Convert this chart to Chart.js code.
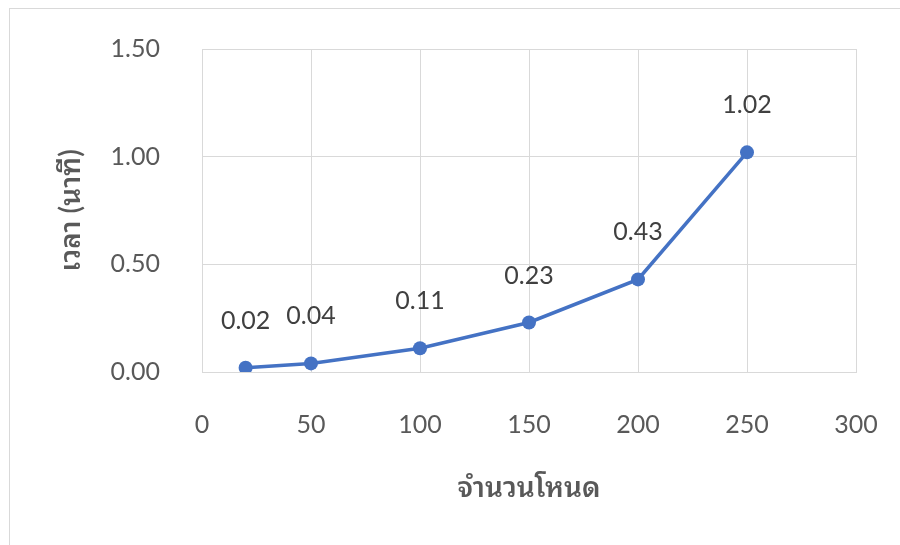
<!DOCTYPE html>
<html><head><meta charset="utf-8">
<script src="https://cdn.jsdelivr.net/npm/chart.js@4"></script>
<style>html,body{margin:0;padding:0;background:#fff}canvas{display:block}</style>
</head><body>
<canvas id="c" width="900" height="545"></canvas>
<script>
const nodes = [20, 50, 100, 150, 200, 250];
const minutes = [0.02, 0.04, 0.11, 0.23, 0.43, 1.02];
const xTickLabels = ['0','50','100','150','200','250','300'];
const yTickLabels = ['0.00','0.50','1.00','1.50'];
const xTitle = 'จำนวนโหนด';
const yTitle = 'เวลา (นาที)';

const FONT = 'Lato, "Noto Sans", "Noto Sans Thai", sans-serif';
const TFONT = 'Lato, "Noto Sans Thai Looped", "Noto Sans Thai", Tahoma, sans-serif';

const frame = {
  id: 'frame',
  beforeDraw(chart) {
    const ctx = chart.ctx;
    ctx.save();
    ctx.fillStyle = '#fff';
    ctx.fillRect(0, 0, chart.width, chart.height);
    ctx.strokeStyle = '#d9d9d9';
    ctx.lineWidth = 1;
    ctx.strokeRect(9.5, 8.5, 1000, 1000);
    ctx.restore();
  }
};
const labels = {
  id: 'labels',
  afterDatasetsDraw(chart) {
    const ctx = chart.ctx;
    const meta = chart.getDatasetMeta(0);
    ctx.save();
    ctx.font = '25px ' + FONT;
    ctx.fillStyle = '#404040';
    ctx.textAlign = 'center';
    ctx.textBaseline = 'middle';
    meta.data.forEach((pt, i) => {
      ctx.fillText(minutes[i].toFixed(2), pt.x, pt.y - 47);
    });
    ctx.restore();
  }
};

new Chart(document.getElementById('c'), {
  type: 'scatter',
  data: {
    datasets: [{
      data: nodes.map((n, i) => ({x: n, y: minutes[i]})),
      showLine: true,
      borderColor: '#4472C4',
      backgroundColor: '#4472C4',
      borderWidth: 3.5,
      pointRadius: 7,
      pointBorderWidth: 0,
      tension: 0
    }]
  },
  options: {
    responsive: false,
    animation: false,
    layout: { padding: { left: 10, top: 49, right: 44, bottom: 0 } },
    plugins: { legend: { display: false }, tooltip: { enabled: false } },
    scales: {
      x: {
        type: 'linear', min: 0, max: 300,
        afterFit(s) { s.height = 173; },
        ticks: {
          stepSize: 50, padding: 0, color: '#595959',
          font: { size: 25, family: FONT },
          callback: (v) => xTickLabels[Math.round(v / 50)]
        },
        grid: { color: '#d9d9d9', drawTicks: true, tickLength: 38, tickColor: 'rgba(0,0,0,0)', lineWidth: 1 },
        border: { color: '#d9d9d9' },
        title: {
          display: true, text: xTitle, color: '#595959',
          font: { size: 28, family: TFONT, weight: '600' },
          padding: { top: 0, bottom: 40 }
        }
      },
      y: {
        min: 0, max: 1.5,
        afterFit(s) { s.width = 192; },
        ticks: {
          stepSize: 0.5, padding: 0, color: '#595959',
          font: { size: 25, family: FONT },
          callback: (v) => yTickLabels[Math.round(v / 0.5)]
        },
        grid: { color: '#d9d9d9', drawTicks: true, tickLength: 42, tickColor: 'rgba(0,0,0,0)', lineWidth: 1 },
        border: { color: '#d9d9d9' },
        title: {
          display: true, text: yTitle, color: '#595959',
          font: { size: 28, family: TFONT, weight: '600' },
          padding: { top: 44, bottom: 0 }
        }
      }
    }
  },
  plugins: [frame, labels]
});
</script>
</body></html>
